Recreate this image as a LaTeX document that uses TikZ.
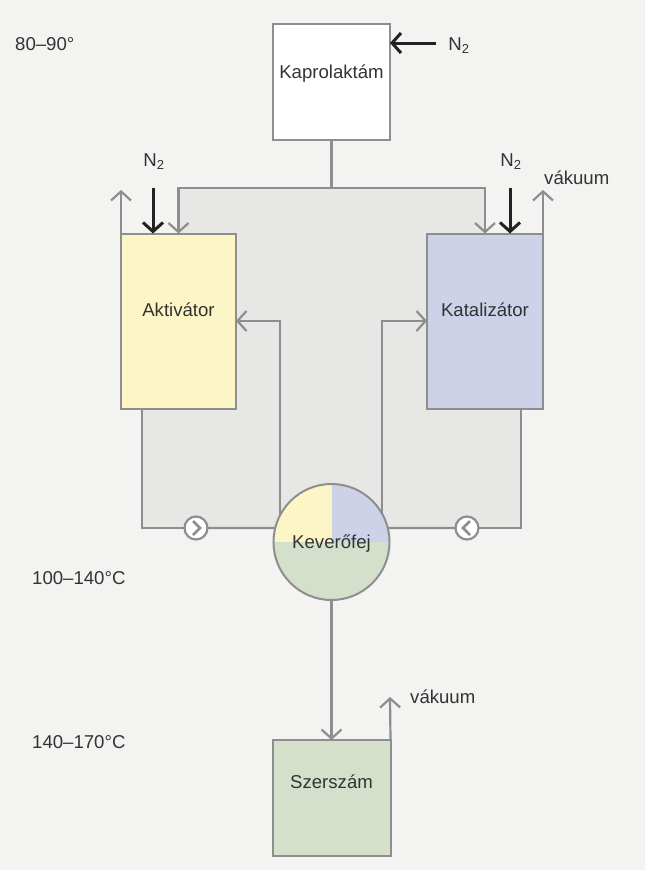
\documentclass[tikz,border=0pt]{standalone}
\usepackage{fontspec}
\setmainfont{Liberation Sans}
\usetikzlibrary{arrows.meta}
\definecolor{bgpaper}{HTML}{F3F3F1}
\definecolor{loopgrey}{HTML}{E7E7E5}
\definecolor{pipegrey}{HTML}{8E8E8E}
\definecolor{gasblack}{HTML}{222222}
\definecolor{textgrey}{HTML}{333333}
\definecolor{aktfill}{HTML}{FCF5C5}
\definecolor{katfill}{HTML}{CDD2E8}
\definecolor{toolfill}{HTML}{D4E0CA}
\tikzset{
    tank/.style={draw=pipegrey, line width=2pt, outer sep=0pt, inner sep=0pt},
    pipe/.style={draw=pipegrey, line width=2.2pt},
    flow/.style={pipe, -{Straight Barb[length=9pt, width=20pt]}},
    gasin/.style={draw=gasblack, line width=3pt,
                  -{Straight Barb[length=9pt, width=20pt]}},
    note/.style={font=\fontsize{18.6}{22}\selectfont, text=textgrey, inner sep=1pt},
    pump/.style={circle, draw=pipegrey, fill=white, line width=2.2pt,
                 minimum size=23pt, inner sep=0pt, outer sep=0pt},
    chev/.style={draw=pipegrey, line width=2.5pt},
}

\begin{document}
\begin{tikzpicture}[x=1pt, y=-1pt]

    \useasboundingbox (0,0) rectangle (645,870);
    \fill[bgpaper] (0,0) rectangle (645,870);
    \fill[loopgrey] (179,188) -- (484,188) -- (484,408) -- (521,408)
        -- (521,528) -- (142,528) -- (142,408) -- (179,408) -- cycle;

    \node[tank, fill=white, minimum width=117pt, minimum height=116pt,
          label={[note, yshift=8pt]center:Kaprolaktám}] (kapro) at (331.5,82) {};
    \node[tank, fill=aktfill, minimum width=115pt, minimum height=175pt,
          label={[note, yshift=11pt]center:Aktivátor}] (aktivator) at (178.5,321) {};
    \node[tank, fill=katfill, minimum width=116pt, minimum height=175pt,
          label={[note, yshift=11pt]center:Katalizátor}] (katalizator) at (485,321) {};
    \node[tank, circle, minimum size=116pt,
          path picture={
              \fill[aktfill] (path picture bounding box.center)
                  rectangle (path picture bounding box.north west);
              \fill[katfill] (path picture bounding box.center)
                  rectangle (path picture bounding box.north east);
              \fill[toolfill] (path picture bounding box.west)
                  rectangle (path picture bounding box.south east);
          },
          label={[note, yshift=-2pt]center:Keverőfej}] (mixer) at (331.5,542) {};
    \node[tank, fill=toolfill, minimum width=118pt, minimum height=116pt,
          label={[note, yshift=16pt]center:Szerszám}] (szerszam) at (331.5,798) {};

    \node[pump] (pumpL) at (196,528) {};
    \node[pump] (pumpR) at (467,528) {};

    % labels
    \node[note, anchor=west] (tmix) at (14,44) {80–90°};
    \node[note, anchor=west] (thead) at (31,578) {100–140°C};
    \node[note, anchor=west] (ttool) at (31,742) {140–170°C};
    \node[note] (n2top) at (459,46) {N\textsubscript{2}};
    \node[note] (n2left) at (154,162) {N\textsubscript{2}};
    \node[note] (n2right) at (511,162) {N\textsubscript{2}};
    \node[note, anchor=west] (vacright) at (543,178) {vákuum};
    \node[note, anchor=west] (vactool) at (409,697) {vákuum};

    \coordinate (split) at (331.5,188);
    \coordinate (n2a) at (153,188);
    \coordinate (n2b) at (510,188);
    \coordinate (n2c) at (436,43);
    \coordinate (vacA) at (121,190);
    \coordinate (vacB) at (543,190);
    \coordinate (vacC) at (390,697);

    % feed
    \draw[pipe] (kapro.south) -- (split);
    \draw[flow] (split) -| (aktivator.north);
    \draw[flow] (split) -| (katalizator.north);
    \draw[gasin] (n2c) -- (n2c -| kapro.east);
    \draw[gasin] (n2a) -- (n2a |- aktivator.north);
    \draw[gasin] (n2b) -- (n2b |- katalizator.north);
    \draw[flow] (aktivator.north west) -- (vacA);
    \draw[flow] (katalizator.north east) -- (vacB);

    % circulation
    \draw[pipe] ([xshift=21pt]aktivator.south west) |- (pumpL);
    \draw[pipe] (pumpL) -- (mixer.166);
    \draw[flow] (mixer.152) |- (aktivator.east);
    \draw[pipe] ([xshift=-22pt]katalizator.south east) |- (pumpR);
    \draw[pipe] (pumpR) -- (mixer.14);
    \draw[flow] (mixer.30) |- (katalizator.west);
    \draw[chev] ([shift={(-3,-7)}]pumpL.center) -- ([shift={(4,0)}]pumpL.center)
        -- ([shift={(-3,7)}]pumpL.center);
    \draw[chev] ([shift={(3,-7)}]pumpR.center) -- ([shift={(-4,0)}]pumpR.center)
        -- ([shift={(3,7)}]pumpR.center);

    % mould
    \draw[flow] (mixer.south) -- (szerszam.north);
    \draw[flow] (szerszam.north east) -- (vacC);

\end{tikzpicture}
\end{document}
